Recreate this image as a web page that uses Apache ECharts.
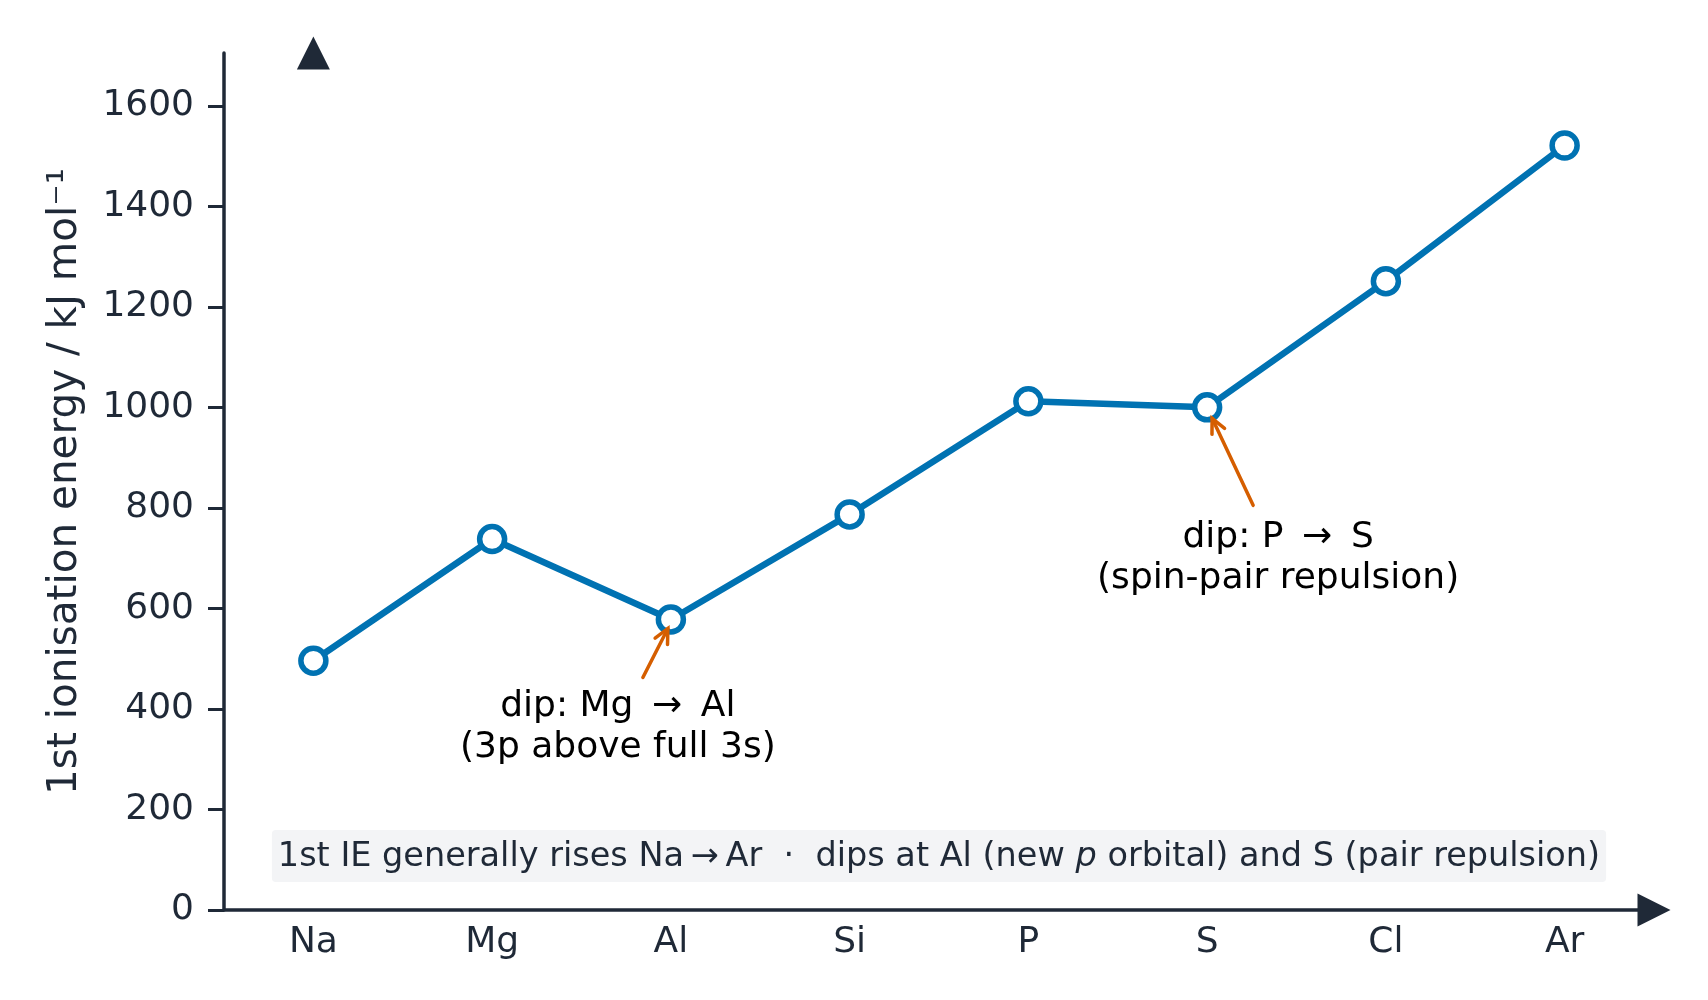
<!DOCTYPE html>
<html>
<head>
<meta charset="utf-8">
<script src="https://cdn.jsdelivr.net/npm/echarts@6/dist/echarts.min.js"></script>
<style>
html, body { margin: 0; background: #fff; }
#chart { width: 1708px; height: 1000px; }
</style>
</head>
<body>
<div id="chart"></div>
<script>
// period 3, first ionisation energies
var elements = ['Na', 'Mg', 'Al', 'Si', 'P', 'S', 'Cl', 'Ar'];
var ionisationEnergy = [496, 738, 578, 787, 1012, 1000, 1251, 1521];
var yTicks = [0, 200, 400, 600, 800, 1000, 1200, 1400, 1600];
var yMax = 1705;
var dipAl = ['dip: Mg \u2009\u2192\u2009 Al', '(3p above full 3s)'];
var dipS = ['dip: P \u2009\u2192\u2009 S', '(spin-pair repulsion)'];

var ink = '#1f2937';
var blue = '#0072b2';
var orange = '#d55e00';
var font = 'DejaVu Sans';

var chart = echarts.init(document.getElementById('chart'));

chart.setOption({
    animation: false,
    grid: {left: 224, right: 54, top: 53, bottom: 90, containLabel: false, outerBoundsMode: 'none'},
    xAxis: {
        type: 'category',
        data: elements,
        boundaryGap: true,
        axisLine: {
            lineStyle: {color: ink, width: 3.5},
            symbol: ['none', 'triangle'],
            symbolSize: [33, 33]
        },
        axisTick: {show: false},
        axisLabel: {color: ink, fontFamily: font, fontSize: 36, margin: 15},
        splitLine: {show: false}
    },
    yAxis: {
        type: 'value',
        min: 0,
        max: yMax,
        name: '1st ionisation energy / kJ mol\u207B\u00B9',
        nameLocation: 'middle',
        nameRotate: 90,
        nameGap: 138,
        nameTextStyle: {color: ink, fontFamily: font, fontSize: 40.5},
        axisLine: {show: true, lineStyle: {color: ink, width: 3.5}},
        axisTick: {show: true, length: 16, customValues: yTicks, lineStyle: {color: ink, width: 3}},
        axisLabel: {
            customValues: yTicks, color: ink, fontFamily: font, fontSize: 36, margin: 30,
            formatter: function (v) { return String(v); }
        },
        splitLine: {show: false}
    },
    series: [
        {
            type: 'line',
            data: ionisationEnergy,
            symbol: 'circle',
            symbolSize: 25,
            lineStyle: {color: blue, width: 6.5},
            itemStyle: {color: '#fff', borderColor: blue, borderWidth: 5.5},
            z: 3
        },
        {
            // the up-marker of the y axis sits above the first category
            type: 'scatter',
            data: [[0, yMax]],
            symbol: 'triangle',
            symbolSize: 33,
            itemStyle: {color: ink, opacity: 1},
            clip: false,
            silent: true,
            z: 4
        }
    ]
});

function px(cat, v) {
    return chart.convertToPixel({xAxisIndex: 0, yAxisIndex: 0}, [elements.indexOf(cat), v]);
}

// arrow with open head, tail/tip in pixels
function arrow(tail, tip) {
    var ang = Math.atan2(tail[1] - tip[1], tail[0] - tip[0]);
    var len = 16, spread = 0.45;
    var w1 = [tip[0] + len * Math.cos(ang + spread), tip[1] + len * Math.sin(ang + spread)];
    var w2 = [tip[0] + len * Math.cos(ang - spread), tip[1] + len * Math.sin(ang - spread)];
    return [
        {type: 'line', shape: {x1: tail[0], y1: tail[1], x2: tip[0], y2: tip[1]},
            style: {stroke: orange, lineWidth: 3.5, lineCap: 'round'}, z: 10},
        {type: 'polyline', shape: {points: [w1, tip, w2]},
            style: {stroke: orange, lineWidth: 3.5, fill: null, lineCap: 'round'}, z: 10}
    ];
}

function note(lines, at, dx, dy) {
    return {type: 'text', x: at[0] + dx, y: at[1] + dy, z: 10,
        style: {text: lines.join('\n'), fill: '#000', fontFamily: font, fontSize: 36,
            lineHeight: 41, align: 'center', verticalAlign: 'middle'}};
}

var pAl = px('Al', ionisationEnergy[2]);
var pS = px('S', ionisationEnergy[5]);
var pNa = px('Na', 0);
var pAr = px('Ar', 0);
var capY = px('Na', yMax * 0.063)[1];

var graphics = [];
graphics = graphics.concat(arrow([pAl[0] - 28, pAl[1] + 58], [pAl[0] - 3, pAl[1] + 9]));
graphics.push(note(dipAl, pAl, -53, 108));
graphics = graphics.concat(arrow([pS[0] + 46, pS[1] + 98], [pS[0] + 5, pS[1] + 11]));
graphics.push(note(dipS, pS, 71, 151));

graphics.push({
    type: 'text',
    x: (pNa[0] + pAr[0]) / 2,
    y: capY,
    z: 10,
    style: {
        text: '{n|1st IE generally rises Na\u2009\u2192\u2009Ar  \u00B7  dips at Al (new }{i|p}{n| orbital) and S (pair repulsion)}',
        rich: {
            n: {fill: ink, fontFamily: font, fontSize: 33.5},
            i: {fill: ink, fontFamily: font, fontSize: 33.5, fontStyle: 'italic'}
        },
        fill: ink, fontFamily: font, fontSize: 33.5,
        align: 'center', verticalAlign: 'middle',
        backgroundColor: '#f3f4f6',
        padding: [10, 6, 8, 6],
        borderRadius: 4
    }
});

chart.setOption({graphic: graphics});
</script>
</body>
</html>
